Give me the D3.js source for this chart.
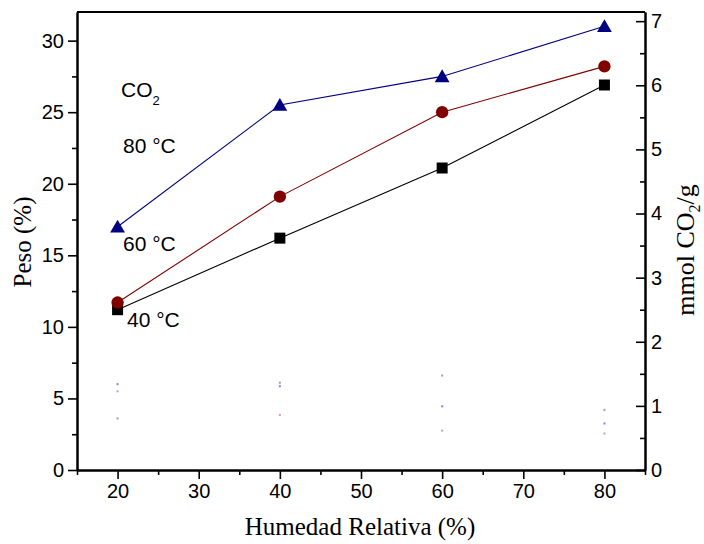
<!DOCTYPE html>
<html>
<head>
<meta charset="utf-8">
<script src="https://cdn.jsdelivr.net/npm/d3@7"></script>
<style>
  html, body { margin: 0; padding: 0; background: #fff; }
  svg { display: block; }
</style>
</head>
<body>
<svg id="chart" width="704" height="544"></svg>
<script>
// Relative humidity (%) on the x axis
const humidity = [20, 40, 60, 80];

// CO2 uptake, weight % at each temperature
const peso80 = [17.0, 25.5, 27.5, 31.0];
const peso60 = [11.7, 19.1, 25.0, 28.2];
const peso40 = [11.2, 16.2, 21.1, 26.9];

// Faint residual points near the bottom of the plot
const faintGray = [3.6, 6.1, 6.6, 4.2];
const faintBlue = [6.0, 5.85, 4.45, 3.25];
const faintPurple = [5.5, 3.85, 2.75, 2.55];

// Tick values
const xTicks = [20, 30, 40, 50, 60, 70, 80];
const xMinor = [15, 25, 35, 45, 55, 65, 75, 85];
const yTicks = [0, 5, 10, 15, 20, 25, 30];
const yMinor = [2.5, 7.5, 12.5, 17.5, 22.5, 27.5];
const y2Ticks = [0, 1, 2, 3, 4, 5, 6, 7];
const y2Minor = [0.5, 1.5, 2.5, 3.5, 4.5, 5.5, 6.5];

const svg = d3.select("#chart");
const plotLeft = 77, plotRight = 645, plotTop = 12, plotBottom = 470;

const x = d3.scaleLinear().domain([15, 85]).range([plotLeft, plotRight]);
const y = d3.scaleLinear().domain([0, 32]).range([plotBottom, plotTop]);
// 1 mmol CO2 per g corresponds to 4.48 wt%
const y2 = d3.scaleLinear().domain([0, 32 / 4.48]).range([plotBottom, plotTop]);

const tickFont = "'Liberation Sans', Arial, sans-serif";
const titleFont = "'Liberation Serif', 'Times New Roman', serif";

function styleAxis(g, fs) {
  g.selectAll("path.domain").attr("stroke", "#000").attr("stroke-width", 2);
  g.selectAll(".tick line").attr("stroke", "#000").attr("stroke-width", 1.6);
  g.selectAll(".tick text").attr("font-family", tickFont).attr("font-size", fs).attr("fill", "#000");
}

// Bottom axis
const gx = svg.append("g").attr("transform", `translate(0,${plotBottom})`)
  .call(d3.axisBottom(x).tickValues(xTicks).tickSizeInner(9).tickSizeOuter(0).tickPadding(5).tickFormat(d3.format("d")));
styleAxis(gx, 20);
const gxm = svg.append("g").attr("transform", `translate(0,${plotBottom})`)
  .call(d3.axisBottom(x).tickValues(xMinor).tickSizeInner(5).tickSizeOuter(0).tickFormat(""));
styleAxis(gxm, 20);

// Left axis
const gy = svg.append("g").attr("transform", `translate(${plotLeft},0)`)
  .call(d3.axisLeft(y).tickValues(yTicks).tickSizeInner(9).tickSizeOuter(0).tickPadding(4).tickFormat(d3.format("d")));
styleAxis(gy, 20);
const gym = svg.append("g").attr("transform", `translate(${plotLeft},0)`)
  .call(d3.axisLeft(y).tickValues(yMinor).tickSizeInner(5).tickSizeOuter(0).tickFormat(""));
styleAxis(gym, 20);

// Right axis, ticks pointing inward
const gy2 = svg.append("g").attr("transform", `translate(${plotRight},0)`)
  .call(d3.axisRight(y2).tickValues(y2Ticks).tickSizeInner(-9).tickSizeOuter(0).tickPadding(6).tickFormat(d3.format("d")));
styleAxis(gy2, 20);
const gy2m = svg.append("g").attr("transform", `translate(${plotRight},0)`)
  .call(d3.axisRight(y2).tickValues(y2Minor).tickSizeInner(-5).tickSizeOuter(0).tickFormat(""));
styleAxis(gy2m, 20);

// Top frame line
svg.append("line")
  .attr("x1", plotLeft).attr("x2", plotRight).attr("y1", plotTop).attr("y2", plotTop)
  .attr("stroke", "#000").attr("stroke-width", 2);

// Faint residual points
[[faintGray, "#888"], [faintBlue, "#6060ff"], [faintPurple, "#c080c0"]].forEach(([vals, col]) => {
  svg.append("g").selectAll("rect").data(vals).join("rect")
    .attr("x", (d, i) => x(humidity[i]) - 1)
    .attr("y", d => y(d) - 1)
    .attr("width", 2).attr("height", 2)
    .attr("fill", col).attr("opacity", 0.8);
});

// Data series
const series = [
  { vals: peso40, color: "#000000", symbol: d3.symbolSquare, size: 121 },
  { vals: peso60, color: "#800000", symbol: d3.symbolCircle, size: 120 },
  { vals: peso80, color: "#000080", symbol: d3.symbolTriangle, size: 95 }
];

const line = d3.line().x((d, i) => x(humidity[i])).y(d => y(d));

series.forEach(s => {
  svg.append("path").datum(s.vals)
    .attr("d", line).attr("fill", "none")
    .attr("stroke", s.color).attr("stroke-width", 1.1);
  svg.append("g").selectAll("path").data(s.vals).join("path")
    .attr("d", d3.symbol().type(s.symbol).size(s.size))
    .attr("transform", (d, i) => {
      const dy = s.symbol === d3.symbolTriangle ? 1.5 : 0;
      return `translate(${x(humidity[i])},${y(d) + dy})`;
    })
    .attr("fill", s.color);
});

// In-plot annotations
const ann = svg.append("g").attr("font-family", tickFont).attr("font-size", 21).attr("fill", "#000");
const co2 = ann.append("text").attr("x", 121).attr("y", 97);
co2.append("tspan").text("CO");
co2.append("tspan").attr("font-size", 13).attr("dy", 8).text("2");
ann.append("text").attr("x", 123).attr("y", 153).text("80 °C");
ann.append("text").attr("x", 123).attr("y", 251).text("60 °C");
ann.append("text").attr("x", 127).attr("y", 327).text("40 °C");

// Axis titles
svg.append("text")
  .attr("x", 360).attr("y", 535)
  .attr("text-anchor", "middle")
  .attr("font-family", titleFont).attr("font-size", 25)
  .text("Humedad Relativa (%)");

svg.append("text")
  .attr("transform", "translate(31,242) rotate(-90)")
  .attr("text-anchor", "middle")
  .attr("font-family", titleFont).attr("font-size", 25)
  .text("Peso (%)");

const t2 = svg.append("text")
  .attr("transform", "translate(694,250) rotate(-90)")
  .attr("text-anchor", "middle")
  .attr("font-family", titleFont).attr("font-size", 26);
t2.append("tspan").text("mmol CO");
t2.append("tspan").attr("font-size", 16).attr("dy", 6).text("2");
t2.append("tspan").attr("dy", -6).text("/g");
</script>
</body>
</html>
